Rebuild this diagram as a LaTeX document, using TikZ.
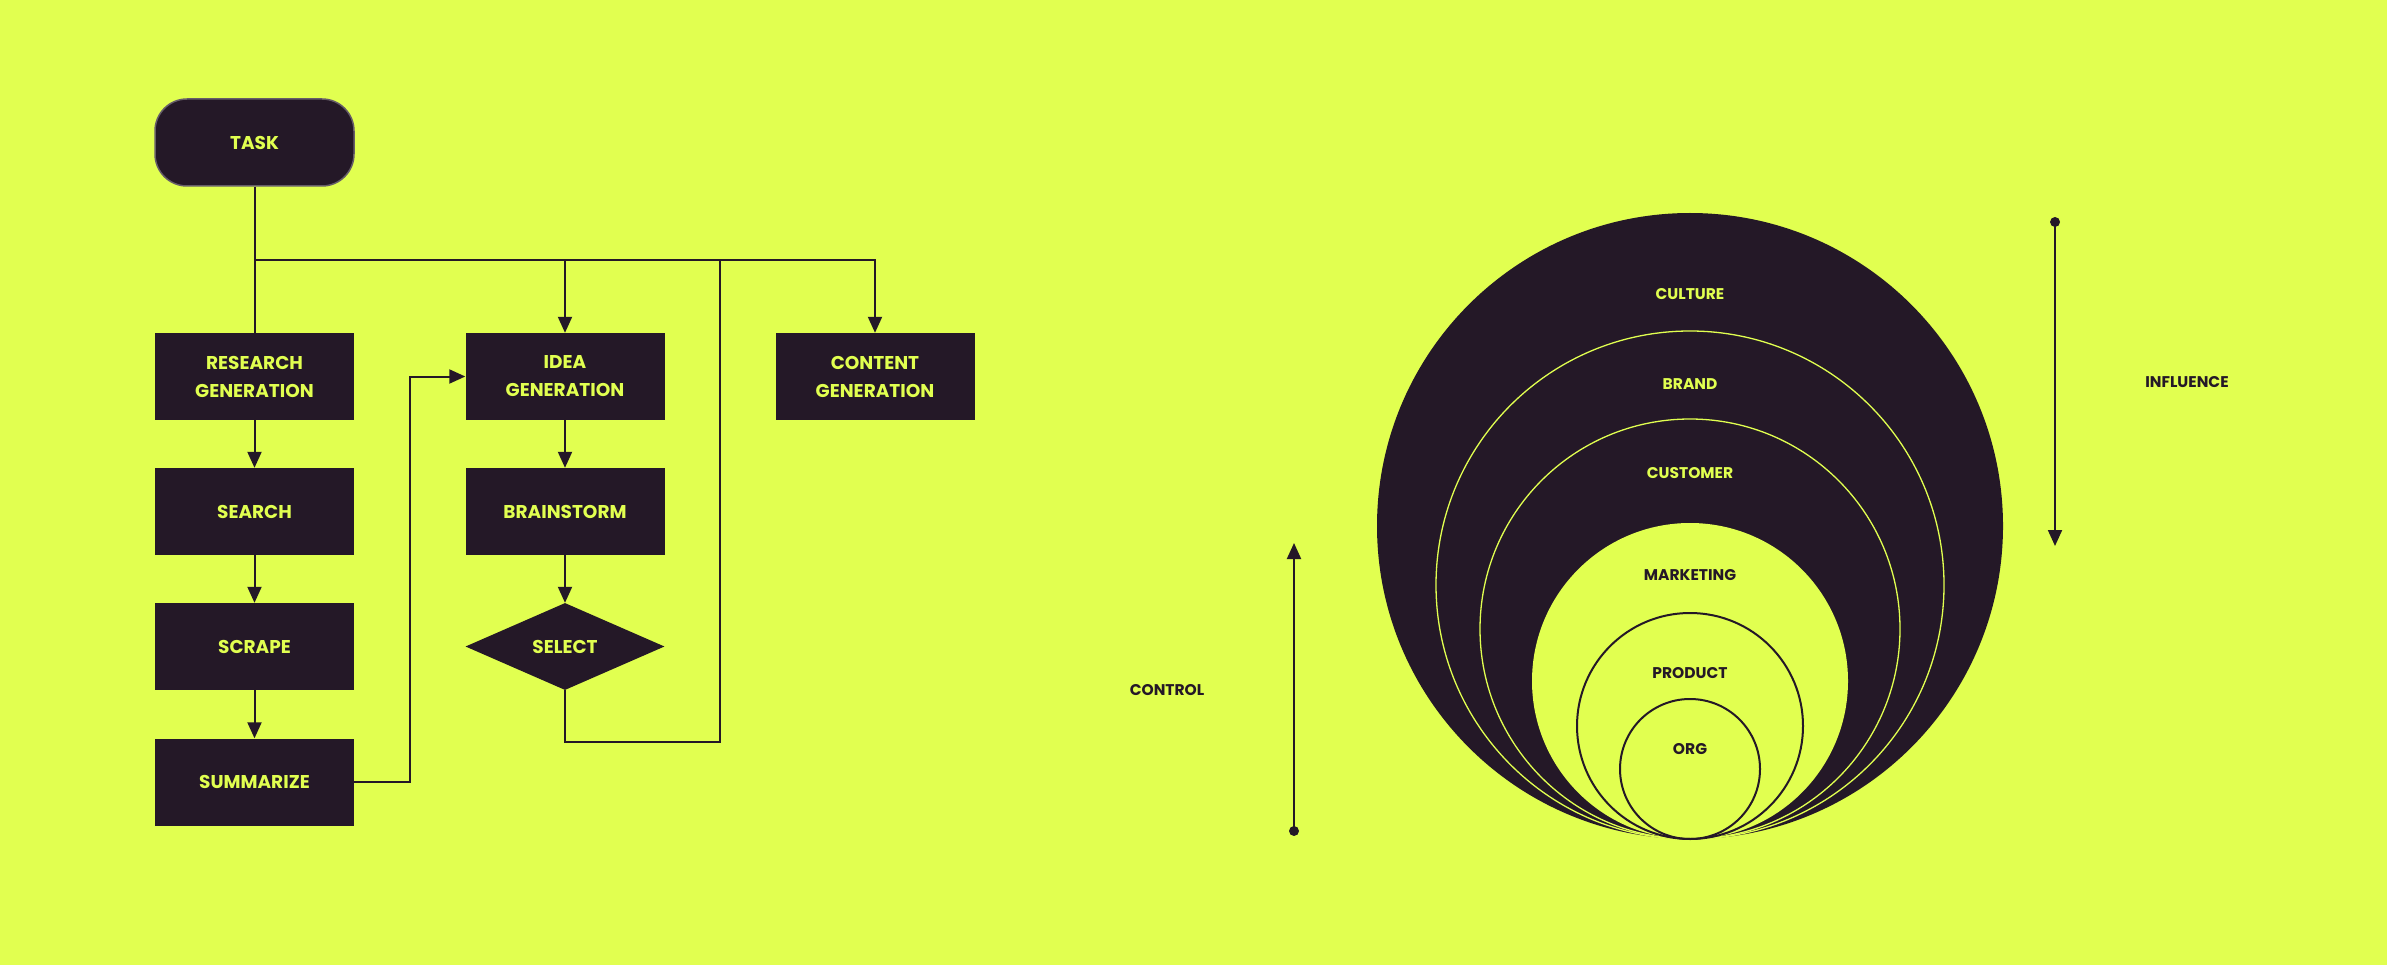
\documentclass[tikz,border=0pt]{standalone}
\usepackage{fontspec}
\setmainfont{Poppins}
\usetikzlibrary{shapes.geometric,arrows.meta}
\definecolor{bg}{HTML}{E1FF50}
\definecolor{ink}{HTML}{241827}
\begin{document}
\begin{tikzpicture}[x=1pt,y=-1pt,
  box/.style={rectangle, fill=ink, text=bg, minimum width=199pt, minimum height=87pt, inner sep=0pt, align=center, font=\fontsize{18.5}{28}\selectfont\bfseries},
  decide/.style={diamond, aspect=2.3, fill=ink, text=bg, minimum width=199pt, minimum height=87pt, inner sep=0pt, font=\fontsize{18.5}{28}\selectfont\bfseries},
  link/.style={draw=ink, line width=2pt},
  arr/.style={link, -{Triangle[width=14pt,length=16pt]}},
  ring/.style={circle, inner sep=0pt},
  lbl/.style={font=\fontsize{15.5}{18}\selectfont\bfseries, inner sep=0pt},
  dotend/.style={circle, fill=ink, minimum size=10pt, inner sep=0pt}
]
\fill[bg] (0,0) rectangle (2387,965);
\useasboundingbox (0,0) rectangle (2387,965);

% flowchart
\node[box, rounded corners=32pt, draw=ink!70!white, line width=1.5pt] (task) at (254.5,142.5) {TASK};
\node[box] (research) at (254.5,376.5) {RESEARCH\\GENERATION};
\node[box] (search) at (254.5,511.5) {SEARCH};
\node[box] (scrape) at (254.5,646.5) {SCRAPE};
\node[box] (summ) at (254.5,782) {SUMMARIZE};
\node[box] (idea) at (565,376.5) {IDEA\\GENERATION};
\node[box] (brain) at (565,511.5) {BRAINSTORM};
\node[decide] (select) at (565,646.5) {SELECT};
\node[box] (content) at (875,376.5) {CONTENT\\GENERATION};

\coordinate (split) at (254.5,260);
\coordinate (loopcorner) at (720,260);

\draw[link] (task.south) -- (research.north);
\draw[arr] (split) -| (content.north);
\draw[arr] (idea.north |- split) -- (idea.north);
\draw[arr] (research) -- (search);
\draw[arr] (search) -- (scrape);
\draw[arr] (scrape) -- (summ);
\draw[arr] (summ.east) -- ++(56,0) |- (idea.west);
\draw[arr] (idea) -- (brain);
\draw[arr] (brain) -- (select);
\draw[link] (select.south) -- ++(0,52) -| (loopcorner);

% concentric circles
\node[ring, fill=ink, minimum size=626pt] (culture) at (1690,526) {};
\node[ring, fill=ink, draw=bg, line width=1.3pt, minimum size=508pt] (brand) at (1690,585) {};
\node[ring, fill=ink, draw=bg, line width=1.3pt, minimum size=420pt] (customer) at (1690,629) {};
\node[ring, fill=bg, minimum size=316pt] (marketing) at (1690,681) {};
\node[ring, draw=ink, line width=2pt, minimum size=226pt] (product) at (1690,726) {};
\node[ring, draw=ink, line width=2pt, minimum size=140pt] (org) at (1690,769) {};

\node[lbl, text=bg] (tculture) at (1690,294) {CULTURE};
\node[lbl, text=bg] (tbrand) at (1690,384) {BRAND};
\node[lbl, text=bg] (tcustomer) at (1690,473) {CUSTOMER};
\node[lbl, text=ink] (tmarketing) at (1690,575) {MARKETING};
\node[lbl, text=ink] (tproduct) at (1690,673) {PRODUCT};
\node[lbl, text=ink] (torg) at (1690,749) {ORG};

% control / influence
\node[dotend] (cbot) at (1294,831) {};
\coordinate (ctop) at (1294,543);
\draw[arr] (cbot.center) -- (ctop);
\node[lbl, text=ink] (tcontrol) at (1167,690) {CONTROL};

\node[dotend] (itop) at (2055,222) {};
\coordinate (ibot) at (2055,546);
\draw[arr] (itop.center) -- (ibot);
\node[lbl, text=ink] (tinfluence) at (2187,382) {INFLUENCE};
\end{tikzpicture}
\end{document}
